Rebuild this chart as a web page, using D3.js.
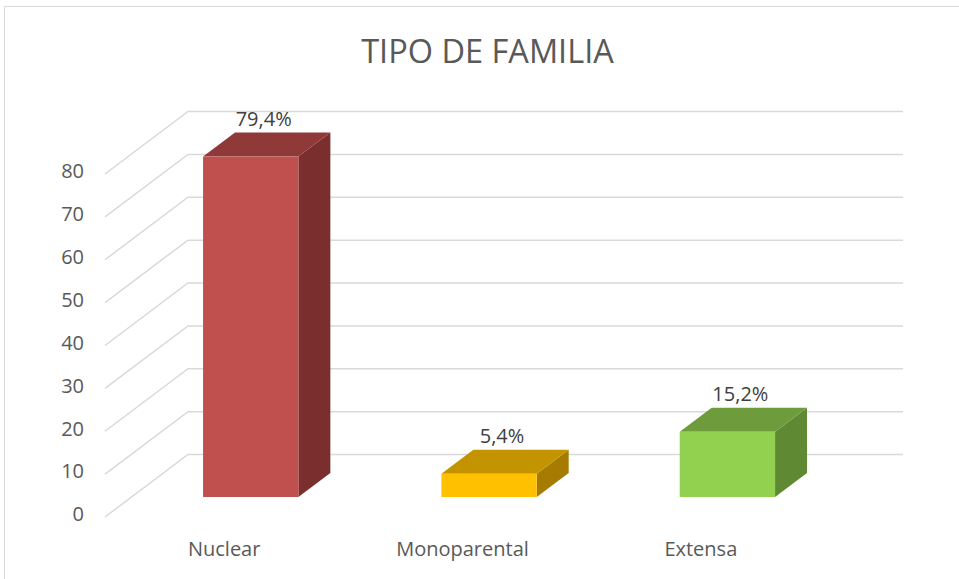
<!DOCTYPE html>
<html>
<head>
<meta charset="utf-8">
<script src="https://cdn.jsdelivr.net/npm/d3@7"></script>
<style>
  html, body { margin: 0; padding: 0; background: #fff; }
  svg { display: block; }
  text { font-family: "Open Sans", "Noto Sans", sans-serif; fill: #595959; }
</style>
</head>
<body>
<svg id="chart" width="959" height="579"></svg>
<script>
const title = "TIPO DE FAMILIA";
const categories = ["Nuclear", "Monoparental", "Extensa"];
const values = [79.4, 5.4, 15.2];
const valueLabels = ["79,4%", "5,4%", "15,2%"];
const yTicks = [0, 10, 20, 30, 40, 50, 60, 70, 80];
const frontColors = ["#C0504D", "#FFC000", "#92D050"];
const topColors = ["#8F3A38", "#C49300", "#6E9B3C"];
const sideColors = ["#7A2F2E", "#A67C00", "#5F8A33"];

const W = 959, H = 579;
const DX = 83, DY = -62.5;      // depth vector (front plane -> back wall)
const T0 = 0.32, T1 = 0.705;    // bar depth range
const svg = d3.select("#chart");

// border (top + left)
svg.append("path").attr("d", `M4.5,${H} L4.5,6.5 L${W},6.5`)
  .attr("fill", "none").attr("stroke", "#D9D9D9").attr("stroke-width", 1);

const x = d3.scaleBand().domain(categories).range([105, 820]).padding(0);
const y = d3.scaleLinear().domain([0, 80]).range([517, 174]);
const barW = x.bandwidth() * 0.4;

// gridlines: side wall diagonal + back wall horizontal
const grid = svg.append("g").attr("fill", "none").attr("stroke", "#D9D9D9").attr("stroke-width", 1.5);
yTicks.forEach(t => {
  const x0 = x.range()[0], x1 = x.range()[1];
  grid.append("path").attr("d",
    `M${x0},${y(t)} L${x0 + DX},${y(t) + DY} L${x1 + DX},${y(t) + DY}`);
});

// y-axis tick labels
svg.append("g").selectAll("text").data(yTicks).join("text")
  .attr("x", 84).attr("y", d => y(d) - 1)
  .attr("text-anchor", "end").attr("dominant-baseline", "middle")
  .attr("font-size", 20).text(d => d);

// bars
const d = T1 - T0;
const bars = svg.append("g");
categories.forEach((c, i) => {
  const cx = x(c) + x.bandwidth() / 2;
  const x0 = cx - barW / 2 + T0 * DX, x1 = x0 + barW;
  const yT = y(values[i]) + T0 * DY, yB = y(0) + T0 * DY;
  const ox = d * DX, oy = d * DY;
  bars.append("path").attr("fill", sideColors[i])
    .attr("d", `M${x1},${yT} L${x1 + ox},${yT + oy} L${x1 + ox},${yB + oy} L${x1},${yB} Z`);
  bars.append("path").attr("fill", topColors[i])
    .attr("d", `M${x0},${yT} L${x1},${yT} L${x1 + ox},${yT + oy} L${x0 + ox},${yT + oy} Z`);
  bars.append("rect").attr("fill", frontColors[i])
    .attr("x", x0).attr("y", yT).attr("width", barW).attr("height", yB - yT);
  // data label
  svg.append("text")
    .attr("x", cx + T0 * DX + ox / 2 - 3)
    .attr("y", yT - 31)
    .attr("text-anchor", "middle").attr("font-size", 20)
    .style("fill", "#404040")
    .text(valueLabels[i]);
});

// category labels
svg.append("g").selectAll("text").data(categories).join("text")
  .attr("x", c => x(c) + x.bandwidth() / 2)
  .attr("y", 556)
  .attr("text-anchor", "middle").attr("font-size", 20)
  .text(c => c);

// title
svg.append("text").attr("x", 487.5).attr("y", 63)
  .attr("text-anchor", "middle").attr("font-size", 32.5)
  .text(title);
</script>
</body>
</html>
